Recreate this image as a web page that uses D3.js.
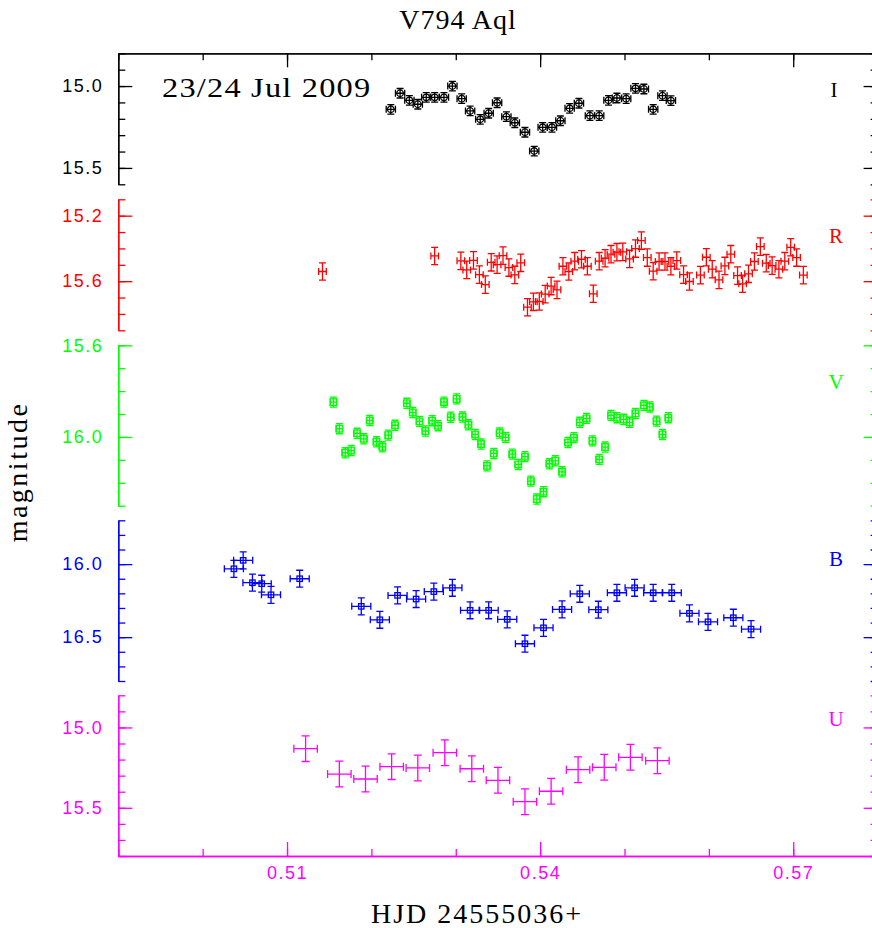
<!DOCTYPE html>
<html>
<head>
<meta charset="utf-8">
<script src="https://cdn.jsdelivr.net/npm/d3@7"></script>
<style>
  html, body { margin: 0; padding: 0; background: #fff; }
  svg { display: block; }
  text { font-family: "Liberation Serif", "DejaVu Serif", serif; }
  .tick text { font-family: "Liberation Sans", "DejaVu Sans", sans-serif; }
</style>
</head>
<body>
<svg id="chart" width="872" height="928"></svg>
<script>
// ---------------- DATA ----------------
const title = "V794 Aql";
const dateLabel = "23/24 Jul 2009";
const xLabel = "HJD 24555036+";
const yLabel = "magnitude";
const bands = ["I", "R", "V", "B", "U"];
const bandColors = ["#000000", "#ff0000", "#00ff00", "#0000ff", "#ff00ff"];

const xDomain = [0.49, 0.58];
const xMinorTicks = [0.49, 0.50, 0.51, 0.52, 0.53, 0.54, 0.55, 0.56, 0.57, 0.58];
const xMajorTicks = [0.51, 0.54, 0.57];
const xTickLabels = ["0.51", "0.54", "0.57"];

const yDomainI = [14.8, 15.6];
const yDomainR = [15.1, 15.9];
const yDomainV = [15.6, 16.3];
const yDomainB = [15.7, 16.8];
const yDomainU = [14.8, 15.8];
const yMajorI = [15.0, 15.5], yLabelsI = ["15.0", "15.5"];
const yMajorR = [15.2, 15.6], yLabelsR = ["15.2", "15.6"];
const yMajorV = [15.6, 16.0], yLabelsV = ["15.6", "16.0"];
const yMajorB = [16.0, 16.5], yLabelsB = ["16.0", "16.5"];
const yMajorU = [15.0, 15.5], yLabelsU = ["15.0", "15.5"];
const yMinorStep = 0.1;

// error bar half-widths per band (days, mag)
const xErr = [0.00055, 0.00045, 0.00036, 0.00113, 0.00139];
const yErr = [0.029, 0.053, 0.022, 0.058, 0.080];

const hjdI = [0.5223,0.5234,0.5245,0.5255,0.5265,0.5275,0.5286,0.5296,0.5307,0.5317,0.5329,0.5339,0.5349,0.5360,0.5370,0.5382,0.5393,0.5403,0.5414,0.5424,0.5435,0.5446,0.5459,0.5470,0.5481,0.5491,0.5502,0.5513,0.5523,0.5534,0.5545,0.5555];
const magI = [15.142,15.044,15.087,15.111,15.069,15.069,15.069,15.000,15.077,15.152,15.203,15.166,15.102,15.187,15.224,15.282,15.397,15.252,15.252,15.212,15.136,15.105,15.181,15.181,15.087,15.073,15.077,15.014,15.018,15.142,15.059,15.089];

const hjdR = [0.5142,0.5275,0.5306,0.5313,0.5321,0.5328,0.5335,0.5342,0.5349,0.5356,0.5363,0.5370,0.5377,0.5385,0.5392,0.5399,0.5406,0.5413,0.5420,0.5427,0.5434,0.5441,0.5449,0.5456,0.5463,0.5470,0.5477,0.5484,0.5491,0.5498,0.5506,0.5513,0.5520,0.5527,0.5534,0.5541,0.5548,0.5555,0.5562,0.5570,0.5577,0.5590,0.5597,0.5604,0.5612,0.5619,0.5626,0.5634,0.5640,0.5647,0.5654,0.5661,0.5668,0.5675,0.5683,0.5690,0.5697,0.5704,0.5712];
const magR = [15.541,15.446,15.476,15.531,15.473,15.560,15.621,15.485,15.499,15.444,15.517,15.562,15.488,15.759,15.726,15.724,15.679,15.630,15.653,15.509,15.541,15.478,15.466,15.509,15.677,15.478,15.460,15.435,15.423,15.421,15.464,15.401,15.352,15.456,15.539,15.480,15.480,15.509,15.474,15.560,15.602,15.563,15.454,15.527,15.592,15.507,15.435,15.566,15.616,15.555,15.480,15.389,15.490,15.505,15.527,15.478,15.393,15.456,15.563];

const hjdV = [0.5155,0.5162,0.5169,0.5176,0.5183,0.5191,0.5198,0.5206,0.5213,0.5220,0.5228,0.5242,0.5249,0.5257,0.5264,0.5272,0.5279,0.5286,0.5294,0.5301,0.5308,0.5315,0.5323,0.5330,0.5337,0.5345,0.5352,0.5359,0.5367,0.5374,0.5382,0.5389,0.5396,0.5404,0.5411,0.5418,0.5426,0.5433,0.5440,0.5447,0.5455,0.5462,0.5470,0.5477,0.5484,0.5491,0.5499,0.5506,0.5513,0.5523,0.5530,0.5538,0.5545,0.5552];
const magV = [15.848,15.964,16.069,16.059,15.984,16.008,15.928,16.021,16.043,15.992,15.949,15.853,15.893,15.932,15.974,15.929,15.951,15.848,15.914,15.834,15.913,15.947,15.989,16.031,16.126,16.072,15.983,16.002,16.075,16.120,16.086,16.193,16.271,16.239,16.117,16.104,16.152,16.024,16.003,15.936,15.919,16.017,16.098,16.044,15.906,15.916,15.923,15.936,15.897,15.862,15.869,15.931,15.989,15.916];

const hjdB = [0.5037,0.5048,0.5059,0.5070,0.5081,0.5115,0.5188,0.5210,0.5231,0.5253,0.5274,0.5296,0.5317,0.5339,0.5361,0.5382,0.5404,0.5426,0.5447,0.5469,0.5491,0.5512,0.5534,0.5556,0.5577,0.5599,0.5629,0.5650];
const magB = [16.032,15.974,16.127,16.134,16.210,16.100,16.289,16.381,16.214,16.239,16.188,16.162,16.316,16.316,16.378,16.545,16.436,16.310,16.203,16.312,16.196,16.162,16.196,16.196,16.337,16.395,16.367,16.445];

const hjdU = [0.5122,0.5162,0.5193,0.5224,0.5255,0.5287,0.5319,0.5350,0.5382,0.5413,0.5445,0.5476,0.5507,0.5539];
const magU = [15.132,15.290,15.321,15.244,15.252,15.157,15.257,15.329,15.462,15.397,15.263,15.248,15.186,15.207];

// ---------------- LAYOUT ----------------
const svg = d3.select("#chart");
const plotLeft = 118.3, plotRight = 877.6, plotTop = 53.3, plotBottom = 856;
const panelRanges = [[53.3, 184.3], [199.3, 330.3], [345.3, 505.7], [520.3, 681], [695.3, 856]];
const markers = ["circle", "none", "square", "smallsquare", "none"];
const yDomains = [yDomainI, yDomainR, yDomainV, yDomainB, yDomainU];
const yMajors = [yMajorI, yMajorR, yMajorV, yMajorB, yMajorU];
const yLabelSets = [yLabelsI, yLabelsR, yLabelsV, yLabelsB, yLabelsU];
const hjds = [hjdI, hjdR, hjdV, hjdB, hjdU];
const mags = [magI, magR, magV, magB, magU];
const bandLabelY = [97, 243, 389, 566, 726];

const x = d3.scaleLinear().domain(xDomain).range([plotLeft, plotRight]);
const lw = 1.3;

function styleAxis(g, color) {
  g.selectAll("path").attr("stroke", color).attr("stroke-width", lw);
  g.selectAll("line").attr("stroke", color).attr("stroke-width", lw);
  g.selectAll("text").attr("fill", color).attr("font-size", 18).attr("letter-spacing", 1.5);
}

// top axis (black)
const gTopMinor = svg.append("g").attr("transform", `translate(0,${plotTop})`)
  .call(d3.axisTop(x).tickValues(xMinorTicks).tickSize(-7).tickSizeOuter(0).tickFormat(""));
styleAxis(gTopMinor, "#000");
const gTopMajor = svg.append("g").attr("transform", `translate(0,${plotTop})`)
  .call(d3.axisTop(x).tickValues(xMajorTicks).tickSize(-14).tickSizeOuter(0).tickFormat(""));
styleAxis(gTopMajor, "#000");

// bottom axis (magenta)
const gBotMinor = svg.append("g").attr("transform", `translate(0,${plotBottom})`)
  .call(d3.axisBottom(x).tickValues(xMinorTicks).tickSize(-7).tickSizeOuter(0).tickFormat(""));
styleAxis(gBotMinor, bandColors[4]);
const gBotMajor = svg.append("g").attr("transform", `translate(0,${plotBottom})`)
  .call(d3.axisBottom(x).tickValues(xMajorTicks).tickSize(-14).tickSizeOuter(0).tickPadding(10)
    .tickFormat((d, i) => xTickLabels[i]));
styleAxis(gBotMajor, bandColors[4]);

bands.forEach((band, bi) => {
  const color = bandColors[bi];
  const [r0, r1] = panelRanges[bi];
  const dom = yDomains[bi];
  const y = d3.scaleLinear().domain(dom).range([r0, r1]);
  const minor = d3.range(Math.round((dom[1] - dom[0]) / yMinorStep) + 1).map(k => +(dom[0] + k * yMinorStep).toFixed(2));

  const gLm = svg.append("g").attr("transform", `translate(${plotLeft},0)`)
    .call(d3.axisLeft(y).tickValues(minor).tickSize(-7).tickSizeOuter(0).tickFormat(""));
  styleAxis(gLm, color);
  const gLM = svg.append("g").attr("transform", `translate(${plotLeft},0)`)
    .call(d3.axisLeft(y).tickValues(yMajors[bi]).tickSize(-14).tickSizeOuter(0).tickPadding(15)
      .tickFormat((d, i) => yLabelSets[bi][i]));
  styleAxis(gLM, color);
  const gRm = svg.append("g").attr("transform", `translate(${plotRight},0)`)
    .call(d3.axisRight(y).tickValues(minor).tickSize(-7).tickSizeOuter(0).tickFormat(""));
  styleAxis(gRm, color);
  const gRM = svg.append("g").attr("transform", `translate(${plotRight},0)`)
    .call(d3.axisRight(y).tickValues(yMajors[bi]).tickSize(-14).tickSizeOuter(0).tickFormat(""));
  styleAxis(gRM, color);

  svg.append("text").attr("x", bi === 0 ? 834 : 836).attr("y", bandLabelY[bi])
    .attr("text-anchor", "middle").attr("font-size", 21).attr("fill", color).text(band);

  const data = hjds[bi].map((t, i) => ({ t, m: mags[bi][i] }));
  const g = svg.append("g").attr("stroke", color).attr("stroke-width", lw).attr("fill", "none");
  const cap = bi === 4 ? 4 : 3.5;
  const pts = g.selectAll("g.pt").data(data).join("g").attr("class", "pt")
    .attr("transform", d => `translate(${x(d.t)},${y(d.m)})`);
  const ex = x(xDomain[0] + xErr[bi]) - x(xDomain[0]);
  const ey = y(dom[0] + yErr[bi]) - y(dom[0]);
  pts.append("path").attr("d", `M${-ex},0H${ex}M${-ex},${-cap}V${cap}M${ex},${-cap}V${cap}`);
  pts.append("path").attr("d", `M0,${-ey}V${ey}M${-cap},${-ey}H${cap}M${-cap},${ey}H${cap}`);
  if (markers[bi] === "circle") {
    pts.append("circle").attr("r", 3.3);
  } else if (markers[bi] === "square") {
    pts.append("rect").attr("x", -3.3).attr("y", -3.3).attr("width", 6.6).attr("height", 6.6);
  } else if (markers[bi] === "smallsquare") {
    pts.append("rect").attr("x", -2.7).attr("y", -2.7).attr("width", 5.4).attr("height", 5.4);
  }
});

// texts
svg.append("text").attr("x", 458).attr("y", 29).attr("text-anchor", "middle")
  .attr("font-size", 28).attr("letter-spacing", 1).text(title);
svg.append("text").attr("transform", "translate(162,97) scale(1.2,1)")
  .attr("font-size", 27).attr("letter-spacing", 1).text(dateLabel);
svg.append("text").attr("x", 477).attr("y", 923).attr("text-anchor", "middle")
  .attr("font-size", 28).attr("letter-spacing", 2).text(xLabel);
svg.append("text").attr("transform", "translate(27,472) rotate(-90)").attr("text-anchor", "middle")
  .attr("font-size", 28).attr("letter-spacing", 2.5).text(yLabel);
</script>
</body>
</html>
